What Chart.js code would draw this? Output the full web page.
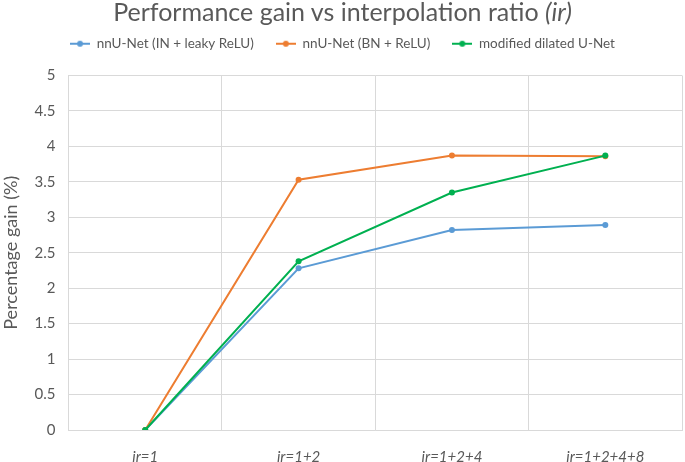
<!DOCTYPE html>
<html>
<head>
<meta charset="utf-8">
<script src="https://cdn.jsdelivr.net/npm/chart.js@4"></script>
<style>
  html, body { margin: 0; padding: 0; background: #fff; }
  #wrap { position: relative; width: 685px; height: 462px; }
  #title { position: absolute; top: -5px; left: 0; width: 685px; text-align: center;
           font-family: Lato, sans-serif; font-size: 25px; color: #595959; line-height: 32px; }
</style>
</head>
<body>
<div id="wrap">
  <div id="title">Performance gain vs interpolation ratio <i>(ir)</i></div>
  <canvas id="chart" width="685" height="462"></canvas>
</div>
<script>
const categories = ['ir=1', 'ir=1+2', 'ir=1+2+4', 'ir=1+2+4+8'];
const seriesNames = ['nnU-Net (IN + leaky ReLU)', 'nnU-Net (BN + ReLU)', 'modified dilated U-Net'];
const inLeaky = [0, 2.28, 2.82, 2.89];
const bnRelu = [0, 3.53, 3.87, 3.86];
const dilated = [0, 2.38, 3.35, 3.87];
const yTicks = { min: 0, max: 5, step: 0.5 };

const COLORS = { blue: '#5b9bd5', orange: '#ed7d31', green: '#00b050', text: '#595959', grid: '#d9d9d9' };

// legend marker: short line with a dot, like the Excel one
function makeMarker(color) {
    const c = document.createElement('canvas');
    c.width = 20; c.height = 8;
    const g = c.getContext('2d');
    g.strokeStyle = color; g.lineWidth = 2;
    g.beginPath(); g.moveTo(0, 4); g.lineTo(20, 4); g.stroke();
    g.fillStyle = color;
    g.beginPath(); g.arc(10, 4, 3, 0, Math.PI * 2); g.fill();
    return c;
}

function line(label, data, color, order) {
    return { label, data, borderColor: color, backgroundColor: color, borderWidth: 2,
             pointRadius: 3, pointHoverRadius: 3, pointBorderWidth: 0, tension: 0, order };
}

// extra room under the legend
const legendGap = {
    id: 'legendGap',
    beforeInit(chart) {
        const fit = chart.legend.fit;
        chart.legend.fit = function () { fit.bind(chart.legend)(); this.height += 15; };
    }
};

new Chart(document.getElementById('chart'), {
    type: 'line',
    data: {
        labels: categories,
        datasets: [
            line(seriesNames[0], inLeaky, COLORS.blue, 2),
            line(seriesNames[1], bnRelu, COLORS.orange, 1),
            line(seriesNames[2], dilated, COLORS.green, 0)
        ]
    },
    plugins: [legendGap],
    options: {
        responsive: false,
        animation: false,
        layout: { padding: { top: 15, right: 0, left: 0, bottom: -22 } },
        plugins: {
            legend: {
                position: 'top',
                labels: {
                    font: { family: 'Lato', size: 13.5 },
                    color: COLORS.text,
                    usePointStyle: true,
                    pointStyleWidth: 20,
                    padding: 22,
                    sort: (a, b) => a.datasetIndex - b.datasetIndex,
                    generateLabels: (chart) => {
                        const items = Chart.defaults.plugins.legend.labels.generateLabels(chart);
                        items.forEach(it => { it.pointStyle = makeMarker(chart.data.datasets[it.datasetIndex].borderColor); });
                        return items;
                    }
                }
            },
            tooltip: { enabled: false }
        },
        scales: {
            x: {
                offset: true,
                grid: { offset: true, color: COLORS.grid, drawTicks: false },
                border: { color: COLORS.grid },
                ticks: { color: COLORS.text, font: { family: 'Lato', size: 15, style: 'italic' }, padding: 18 }
            },
            y: {
                min: yTicks.min, max: yTicks.max,
                grid: { color: COLORS.grid, drawTicks: false },
                border: { color: COLORS.grid },
                ticks: { stepSize: yTicks.step, color: COLORS.text, font: { family: 'Lato', size: 15 }, padding: 13,
                         callback: v => String(+v.toFixed(1)) },
                title: { display: true, text: 'Percentage gain (%)', color: COLORS.text, font: { family: 'Lato', size: 18 }, padding: 0 }
            }
        }
    }
});
</script>
</body>
</html>
